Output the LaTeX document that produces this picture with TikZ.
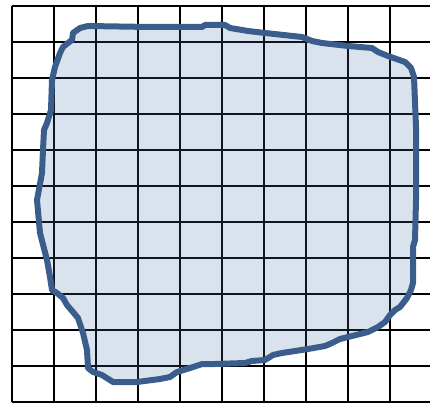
\documentclass[tikz,border=0pt]{standalone}
\usepackage{xcolor}
\usepackage{tikz}
\definecolor{myblue}{RGB}{58,93,140}
\definecolor{hdrblue}{RGB}{72,112,172}
\tikzset{
  gridline/.style={line width=2pt, color=black},
  blobline/.style={draw=myblue, line width=6pt, line join=round, line cap=round,
    fill=hdrblue, fill opacity=0.2}
}

\begin{document}
\begin{tikzpicture}[x=1pt, y=-1pt]
  \useasboundingbox (0,0) rectangle (430,403);

  % square grid, cells of 42 x 36
  \foreach \gx in {12,54,...,390}
    \draw[gridline] (\gx,6) -- (\gx,402);
  \foreach \gy in {6,42,...,402}
    \draw[gridline] (12,\gy) -- (430,\gy);

  % irregular region laid over the grid
  \draw[blobline] (88,26) -- (150,27) -- (202,27) -- (205,25) -- (225,25) -- (230,28)
    -- (248,31) -- (265,33) -- (302,37) -- (312,41) -- (322,43) -- (348,46)
    -- (372,48) -- (378,52) -- (388,56) -- (405,62) -- (411,68) -- (414,77)
    -- (416,127) -- (416,200) -- (415,240) -- (413,247) -- (413,283) -- (411,290)
    -- (407,298) -- (400,307) -- (395,310) -- (390,315) -- (385,322) -- (378,327)
    -- (368,332) -- (348,337) -- (340,339) -- (332,343) -- (325,346) -- (308,349)
    -- (282,353) -- (273,355) -- (265,360) -- (252,361) -- (245,363) -- (215,364)
    -- (202,364) -- (190,368) -- (177,372) -- (170,377) -- (160,379) -- (137,382)
    -- (113,382) -- (102,375) -- (93,372) -- (88,368) -- (87,350) -- (83,333)
    -- (78,318) -- (73,312) -- (67,305) -- (63,298) -- (57,293) -- (52,290)
    -- (50,277) -- (47,260) -- (40,233) -- (37,200) -- (42,173) -- (43,150)
    -- (44,130) -- (47,123) -- (51,110) -- (52,80) -- (55,67) -- (60,53)
    -- (63,47) -- (68,43) -- (72,40) -- (73,33) -- (80,28) -- cycle;
\end{tikzpicture}
\end{document}
